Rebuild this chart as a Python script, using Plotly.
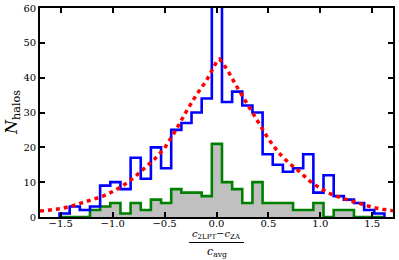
import numpy as np
import plotly.graph_objects as go

# ---- data ----
bin_left = -1.512
bin_width = 0.0978
n_bins = 32

blue_counts = [1, 3, 2, 3, 9, 10, 8, 17, 11, 20, 14, 25, 27, 30, 34, 65,
               33, 36, 32, 30, 18, 15, 13, 14, 18, 7, 12, 6, 5, 4, 2, 1]
green_counts = [0, 0, 0, 2, 3, 4, 1, 4, 2, 5, 4, 8, 7, 7, 6, 21,
                10, 8, 4, 10, 4, 4, 4, 2, 2, 4, 0, 2, 2, 0, 0, 0]

curve_x = [-1.7, -1.6, -1.5, -1.4, -1.3, -1.2, -1.1, -1.0, -0.9, -0.8, -0.7,
           -0.6, -0.5, -0.4, -0.3, -0.2, -0.1, 0.0, 0.03, 0.1, 0.2, 0.3, 0.4,
           0.5, 0.6, 0.7, 0.8, 0.9, 1.0, 1.1, 1.2, 1.3, 1.4, 1.5, 1.6, 1.7]
curve_y = [1.7, 2.0, 2.4, 3.1, 4.0, 4.9, 5.9, 7.3, 9.0, 11.2, 13.8,
           16.5, 19.8, 24.5, 29.8, 34.8, 39.0, 44.5, 45.3, 42.5, 37.2, 32.3, 27.4,
           22.4, 18.4, 15.4, 13.0, 10.3, 8.2, 6.6, 5.5, 4.6, 3.6, 2.8, 2.2, 1.8]

x_tick_vals = [-1.5, -1.0, -0.5, 0.0, 0.5, 1.0, 1.5]
x_tick_text = ["\u22121.5", "\u22121.0", "\u22120.5", "0.0", "0.5", "1.0", "1.5"]
y_tick_vals = [0, 10, 20, 30, 40, 50, 60]

# ---- build step outlines ----
edges = bin_left + bin_width * np.arange(n_bins + 1)


def step_xy(counts):
    xs = [edges[0]] + list(edges[:-1]) + [edges[-1]]
    ys = [0] + list(counts) + [0]
    return xs, ys


bx, by = step_xy(blue_counts)
gx, gy = step_xy(green_counts)

serif = "DejaVu Serif"
fig = go.Figure()
fig.add_trace(go.Scatter(x=gx, y=gy, mode="lines", line_shape="hv",
                         fill="tozeroy", fillcolor="#c0c0c0",
                         line=dict(color="#008000", width=2.6)))
fig.add_trace(go.Scatter(x=bx, y=by, mode="lines", line_shape="hv",
                         line=dict(color="#0000ff", width=2.6)))
fig.add_trace(go.Scatter(x=curve_x, y=curve_y, mode="lines",
                         line=dict(color="#ff0000", width=3.5, dash="4px,4px")))

axis_common = dict(showline=True, linecolor="black", linewidth=1.6, mirror="ticks",
                   ticks="inside", ticklen=5, tickwidth=1.6, tickcolor="black",
                   showgrid=False, zeroline=False, automargin=False,
                   tickfont=dict(family=serif, size=10, color="black"))

fig.update_xaxes(range=[-1.7, 1.7], tickvals=x_tick_vals, ticktext=x_tick_text,
                 ticklabelstandoff=-4, **axis_common)
fig.update_yaxes(range=[0, 60], tickvals=y_tick_vals, **axis_common)

# y-axis title
fig.add_annotation(xref="paper", yref="paper", x=0, xshift=-15, y=0.5, yshift=0,
                   text="<i>N</i><sub>halos</sub>", textangle=-90,
                   showarrow=False, xanchor="right", yanchor="middle",
                   font=dict(family=serif, size=16, color="black"))

# fraction x-axis label
fig.add_annotation(xref="paper", yref="paper", x=0.5, y=0, yshift=-25.5,
                   text="<i>c</i><sub>2LPT</sub>\u2212<i>c</i><sub>ZA</sub>",
                   showarrow=False, xanchor="center", yanchor="bottom",
                   font=dict(family=serif, size=10, color="black"))
fig.add_annotation(xref="paper", yref="paper", x=0.5, y=0, yshift=-26,
                   text="<i>c</i><sub>avg</sub>",
                   showarrow=False, xanchor="center", yanchor="top",
                   font=dict(family=serif, size=11, color="black"))
fig.add_shape(type="line", xref="paper", yref="paper", ysizemode="pixel",
              yanchor=0, x0=0.422, x1=0.578, y0=-25.5, y1=-25.5,
              line=dict(color="black", width=1))

fig.update_layout(width=399, height=260, margin=dict(l=40, r=6, t=8, b=43),
                  paper_bgcolor="white", plot_bgcolor="white", showlegend=False)

fig.write_html("out.html", config={"displayModeBar": False},
               post_script="document.body.style.margin='0';"
                           "document.body.style.overflow='hidden';")
